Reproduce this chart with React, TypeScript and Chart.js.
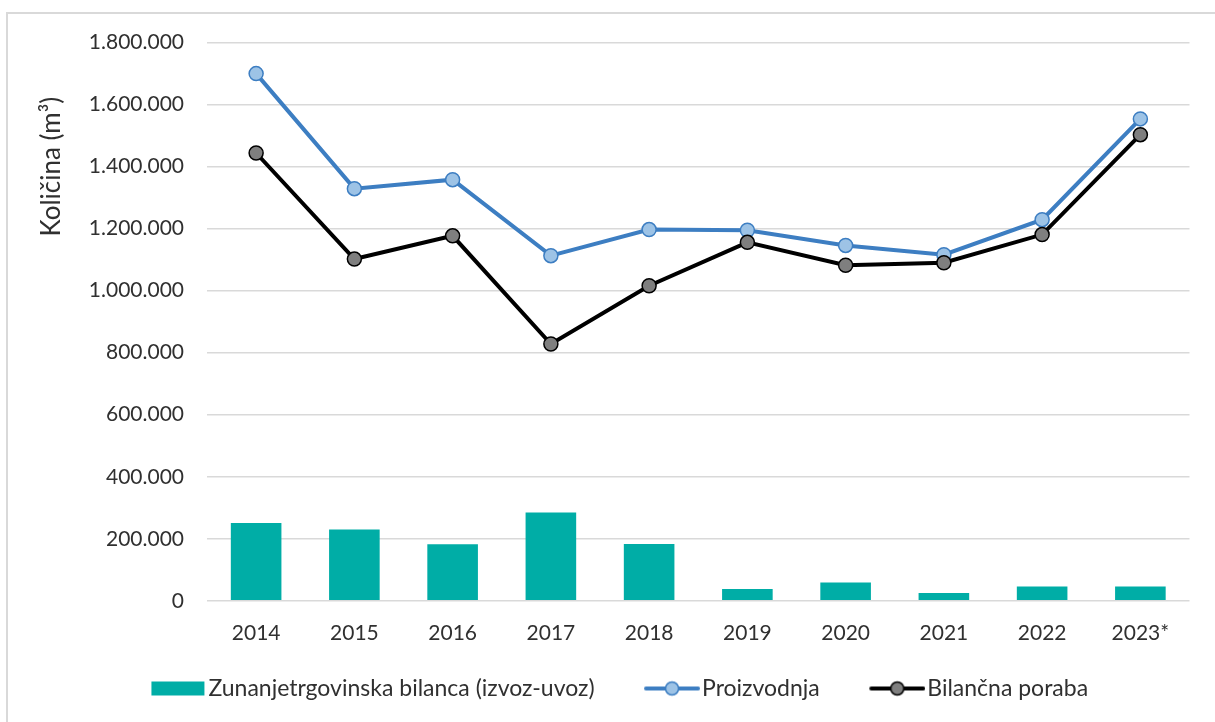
import React, { useEffect, useRef } from 'react';
import { Chart, registerables } from 'chart.js';

Chart.register(...registerables);

const categories = ['2014', '2015', '2016', '2017', '2018', '2019', '2020', '2021', '2022', '2023*'];
const tradeBalance = [251000, 230000, 182000, 285000, 183000, 38000, 59000, 25000, 46000, 46000];
const production = [1700000, 1329000, 1358000, 1113000, 1197000, 1195000, 1146000, 1116000, 1229000, 1554000];
const consumption = [1444000, 1102000, 1177000, 828000, 1016000, 1156000, 1082000, 1090000, 1181000, 1503000];
const seriesLabels = ['Zunanjetrgovinska bilanca (izvoz-uvoz)', 'Proizvodnja', 'Bilančna poraba'];
const yAxisTitle = 'Količina (m³)';
const yMin = 0;
const yMax = 1800000;
const yStep = 200000;

const TEAL = '#00ADA6';
const BLUE = '#3D7EC2';
const BLUE_FILL = '#9DC3E6';
const BLACK = '#000000';
const GRAY_FILL = '#7F7F7F';
const TEXT = '#303030';
const FONT = 'Lato';

const fmt = (v: number) => String(Math.round(v)).replace(/\B(?=(\d{3})+(?!\d))/g, '.');

// legend geometry
const LEG_FONT = 23;
const LEG_PAD = 11;
const LEG_M = 48; // transparent left margin of each legend icon
const LEG_VIS = 56; // visible marker width
const LEG_W = LEG_M + LEG_VIS;
const LEG_H = 18;
const LEG_BOX = LEG_W - LEG_FONT + 4;

function makeBarIcon(color: string) {
  const c = document.createElement('canvas');
  c.width = LEG_W;
  c.height = LEG_H;
  const ctx = c.getContext('2d')!;
  ctx.fillStyle = color;
  ctx.fillRect(LEG_W - 55, 2, 53, 14);
  return c;
}

function makeLineIcon(line: string, fill: string, border: string) {
  const c = document.createElement('canvas');
  c.width = LEG_W;
  c.height = LEG_H;
  const ctx = c.getContext('2d')!;
  ctx.strokeStyle = line;
  ctx.lineWidth = 4;
  ctx.lineCap = 'round';
  ctx.beginPath();
  ctx.moveTo(LEG_M + 2, LEG_H / 2);
  ctx.lineTo(LEG_W - 2, LEG_H / 2);
  ctx.stroke();
  ctx.beginPath();
  ctx.arc(LEG_M + LEG_VIS / 2, LEG_H / 2, 6.5, 0, Math.PI * 2);
  ctx.fillStyle = fill;
  ctx.fill();
  ctx.lineWidth = 1.5;
  ctx.strokeStyle = border;
  ctx.stroke();
  return c;
}

const yTitlePlugin = {
  id: 'yTitlePlugin',
  afterDraw(chart: any) {
    const { ctx, chartArea, scales } = chart;
    const y = scales.y;
    const cy = (chartArea.top + y.getPixelForValue(1000000)) / 2;
    ctx.save();
    ctx.translate(chartArea.left - 155, cy);
    ctx.rotate(-Math.PI / 2);
    ctx.font = `26px ${FONT}`;
    ctx.fillStyle = TEXT;
    ctx.textAlign = 'center';
    ctx.textBaseline = 'middle';
    ctx.fillText(yAxisTitle, 0, 0);
    ctx.restore();
  },
};

export default function App() {
  const ref = useRef<HTMLCanvasElement | null>(null);

  useEffect(() => {
    if (!ref.current) return;
    const icons = [
      makeBarIcon(TEAL),
      makeLineIcon(BLUE, BLUE_FILL, BLUE),
      makeLineIcon(BLACK, GRAY_FILL, BLACK),
    ];
    const chart = new Chart(ref.current, {
      type: 'bar',
      data: {
        labels: categories,
        datasets: [
          {
            type: 'bar',
            label: seriesLabels[0],
            data: tradeBalance,
            backgroundColor: TEAL,
            borderWidth: 0,
            barPercentage: 0.515,
            categoryPercentage: 1,
            order: 3,
          },
          {
            type: 'line',
            label: seriesLabels[1],
            data: production,
            borderColor: BLUE,
            borderWidth: 4,
            backgroundColor: BLUE_FILL,
            pointBackgroundColor: BLUE_FILL,
            pointBorderColor: BLUE,
            pointBorderWidth: 1.5,
            pointRadius: 7,
            tension: 0,
            order: 2,
          },
          {
            type: 'line',
            label: seriesLabels[2],
            data: consumption,
            borderColor: BLACK,
            borderWidth: 4,
            backgroundColor: GRAY_FILL,
            pointBackgroundColor: GRAY_FILL,
            pointBorderColor: BLACK,
            pointBorderWidth: 1.5,
            pointRadius: 7,
            tension: 0,
            order: 1,
          },
        ] as any,
      },
      options: {
        animation: false,
        responsive: true,
        maintainAspectRatio: false,
        layout: { padding: 0 },
        plugins: {
          tooltip: { enabled: false },
          legend: {
            position: 'bottom',
            labels: {
              usePointStyle: true,
              pointStyleWidth: LEG_BOX,
              padding: LEG_PAD,
              color: TEXT,
              font: { family: FONT, size: LEG_FONT },
              generateLabels: () =>
                seriesLabels.map((text, i) => ({
                  text,
                  pointStyle: icons[i] as any,
                  fillStyle: 'transparent',
                  strokeStyle: 'transparent',
                  lineWidth: 0,
                  hidden: false,
                  datasetIndex: i,
                  fontColor: TEXT,
                })),
            },
          },
        },
        scales: {
          x: {
            grid: { display: false, drawTicks: false },
            border: { display: false },
            ticks: { color: TEXT, font: { family: FONT, size: 21 }, padding: 20 },
          },
          y: {
            min: yMin,
            max: yMax,
            afterFit: (s: any) => {
              s.width = 205;
            },
            grid: { color: '#d9d9d9', lineWidth: 1.5, drawTicks: false },
            border: { display: false },
            ticks: {
              stepSize: yStep,
              padding: 23,
              color: TEXT,
              font: { family: FONT, size: 21 },
              callback: (v: any) => fmt(Number(v)),
            },
          },
        },
      },
      plugins: [yTitlePlugin],
    });
    return () => chart.destroy();
  }, []);

  return (
    <div style={{ position: 'absolute', left: 0, top: 0, width: 1215, height: 722, overflow: 'hidden', background: '#fff' }}>
      <div
        style={{
          position: 'absolute',
          left: 6,
          top: 12,
          width: 1260,
          height: 760,
          border: '2px solid #d9d9d9',
        }}
      />
      <div style={{ position: 'absolute', left: 2, top: 7, width: 1196, height: 703 }}>
        <canvas ref={ref} />
      </div>
    </div>
  );
}
